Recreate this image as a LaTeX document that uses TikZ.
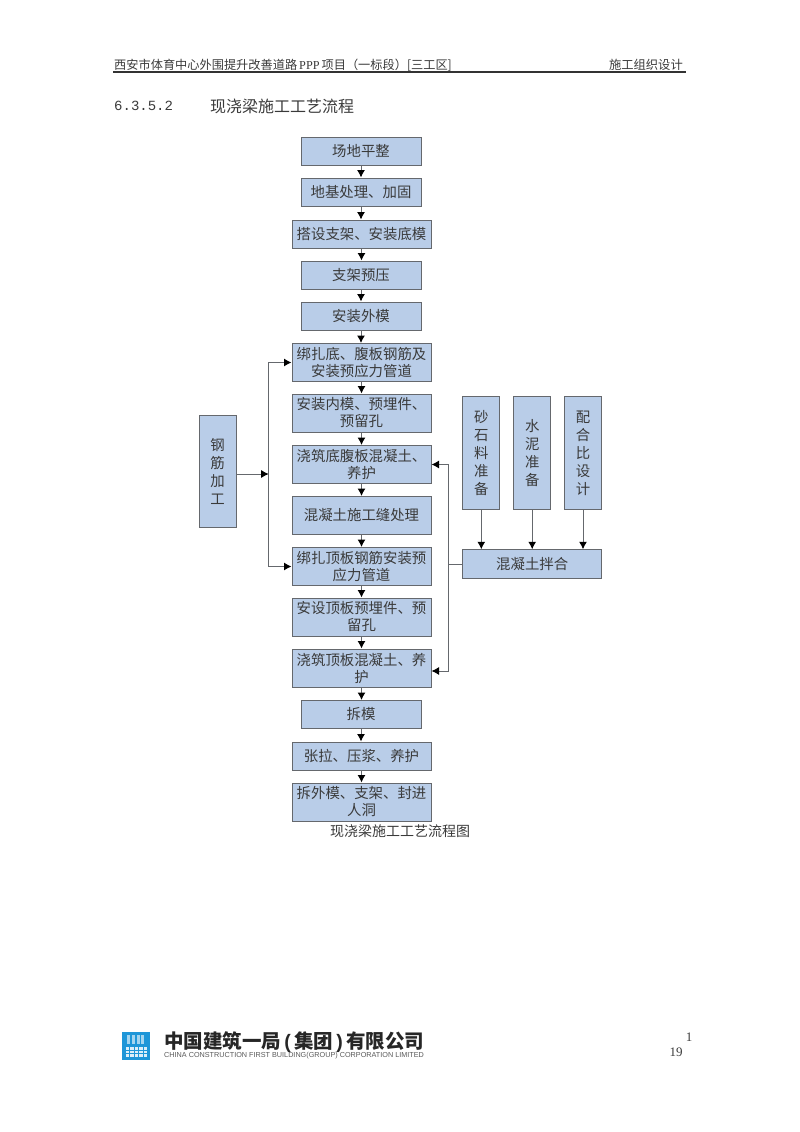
\documentclass[tikz,border=0pt]{standalone}
\usepackage{fontspec}
\setmainfont{Noto Sans CJK SC}
\newfontfamily\latinmono{Liberation Mono}
\newfontfamily\latinserif{Liberation Serif}
\newfontfamily\latinsans{Liberation Sans}
\usetikzlibrary{arrows.meta}

\definecolor{boxblue}{HTML}{B9CDE8}
\definecolor{boxline}{HTML}{65686D}
\definecolor{inkgray}{HTML}{3A3A3A}
\definecolor{logoblue}{HTML}{1E96D8}

\begin{document}
\begin{tikzpicture}[
  x=1pt,y=-1pt,
  stepbox/.style={draw=boxline,fill=boxblue,line width=1pt,inner sep=0pt,align=center,
    text=inkgray,font=\fontsize{14.4}{17}\selectfont},
  shortbox/.style={stepbox,minimum width=120pt,minimum height=28pt},
  longbox/.style={stepbox,minimum width=139pt,minimum height=28pt},
  twoline/.style={stepbox,minimum width=139pt,minimum height=38pt},
  upright/.style={stepbox,minimum width=37pt,font=\fontsize{14.4}{18}\selectfont},
  flow/.style={-{Latex[length=7.5pt,width=8pt,color=black]},draw=boxline,line width=1pt},
  pagetext/.style={text=inkgray,inner sep=0pt},
]
  \useasboundingbox (0,0) rectangle (800,1132);

  % page head
  \node[pagetext,anchor=west,font=\fontsize{12.2}{14}\selectfont] (headleft) at (114,65)
    {西安市体育中心外围提升改善道路{\latinserif\,PPP\,}项目（一标段）[三工区]};
  \node[pagetext,anchor=east,font=\fontsize{12.3}{14}\selectfont] (headright) at (683,65) {施工组织设计};
  \coordinate (ruleleft) at (113,72);
  \coordinate (ruleright) at (686,72);
  \draw[black!80,line width=1.3pt] (ruleleft) -- (ruleright);
  \node[pagetext,anchor=west,font=\fontsize{14}{16}\latinmono] (secno) at (114,106) {6.3.5.2};
  \node[pagetext,anchor=west,font=\fontsize{16}{18}\selectfont] (sectitle) at (210,106) {现浇梁施工工艺流程};

  % main column
  \node[shortbox] (site) at (361,151) {场地平整};
  \node[shortbox] (ground) at (361,192) {地基处理、加固};
  \node[longbox] (falsework) at (361.5,234) {搭设支架、安装底模};
  \node[shortbox] (preload) at (361,275) {支架预压};
  \node[shortbox] (outform) at (361,316) {安装外模};
  \node[twoline] (rebarweb) at (361.5,362.5) {绑扎底、腹板钢筋及\\安装预应力管道};
  \node[twoline] (inform) at (361.5,413) {安装内模、预埋件、\\预留孔};
  \node[twoline] (pourweb) at (361.5,464.5) {浇筑底腹板混凝土、\\养护};
  \node[twoline] (joint) at (361.5,515.5) {混凝土施工缝处理};
  \node[twoline] (rebartop) at (361.5,566.5) {绑扎顶板钢筋安装预\\应力管道};
  \node[twoline] (embed) at (361.5,617) {安设顶板预埋件、预\\留孔};
  \node[twoline] (pourtop) at (361.5,668) {浇筑顶板混凝土、养\\护};
  \node[shortbox] (strip) at (361,714.5) {拆模};
  \node[longbox] (tension) at (361.5,756) {张拉、压浆、养护};
  \node[twoline] (finish) at (361.5,802) {拆外模、支架、封进\\人洞};
  \node[pagetext,font=\fontsize{14}{16}\selectfont] (caption) at (400,831) {现浇梁施工工艺流程图};

  % side columns
  \node[upright,minimum height=112pt] (steel) at (217.5,471.5) {钢\\筋\\加\\工};
  \node[upright,minimum height=112.5pt] (sand) at (481.3,453) {砂\\石\\料\\准\\备};
  \node[upright,minimum height=112.5pt] (cement) at (532.2,453) {水\\泥\\准\\备};
  \node[upright,minimum height=112.5pt] (ratio) at (583,453) {配\\合\\比\\设\\计};
  \node[stepbox,minimum width=139pt,minimum height=28.5pt] (mix) at (532.2,564) {混凝土拌合};

  \foreach \a/\b in {site/ground,ground/falsework,falsework/preload,preload/outform,
    outform/rebarweb,rebarweb/inform,inform/pourweb,pourweb/joint,joint/rebartop,
    rebartop/embed,embed/pourtop,pourtop/strip,strip/tension,tension/finish}
    \draw[flow] (\a) -- (\a |- \b.north);
  \foreach \a in {sand,cement,ratio}
    \draw[flow] (\a) -- (\a |- mix.north);

  % branches
  \coordinate (steelfork) at (268.7,474);
  \coordinate (mixfork) at (448.3,564);
  \draw[flow] (steel.east |- steelfork) -- (steelfork);
  \draw[flow] (steelfork) |- (rebarweb.west);
  \draw[flow] (steelfork) |- (rebartop.west);
  \draw[boxline,line width=1pt] (mix.west) -- (mixfork);
  \draw[flow] (mixfork) |- (pourweb.east);
  \draw[flow] (mixfork) |- ([yshift=-3pt]pourtop.east);

  % page foot
  \fill[logoblue] (122,1032) rectangle (150,1060);
  \foreach \i in {0,...,4}
    \foreach \j in {0,1,2}
      \fill[white!85!logoblue] (125.5+\i*4.5,1047+\j*3.5) rectangle +(3.5,2.5);
  \foreach \i in {0,...,3}
    \fill[white!60!logoblue] (127+\i*4.8,1035) rectangle +(3,9);
  \node[inner sep=0pt,anchor=west,text=black!85,font=\fontsize{19.5}{22}\bfseries] (company) at (164,1042.5)
    {中国建筑一局{\latinsans\,(\,}集团{\latinsans\,)\,}有限公司};
  \node[inner sep=0pt,anchor=west,text=black!65,font=\fontsize{7.25}{8}\latinsans] (companyen) at (164,1055.5)
    {CHINA CONSTRUCTION FIRST BUILDING(GROUP) CORPORATION LIMITED};
  \node[pagetext,font=\fontsize{13}{14}\latinserif] (pageone) at (689,1037) {1};
  \node[pagetext,font=\fontsize{13}{14}\latinserif] (pagenum) at (676,1052) {19};
\end{tikzpicture}
\end{document}
